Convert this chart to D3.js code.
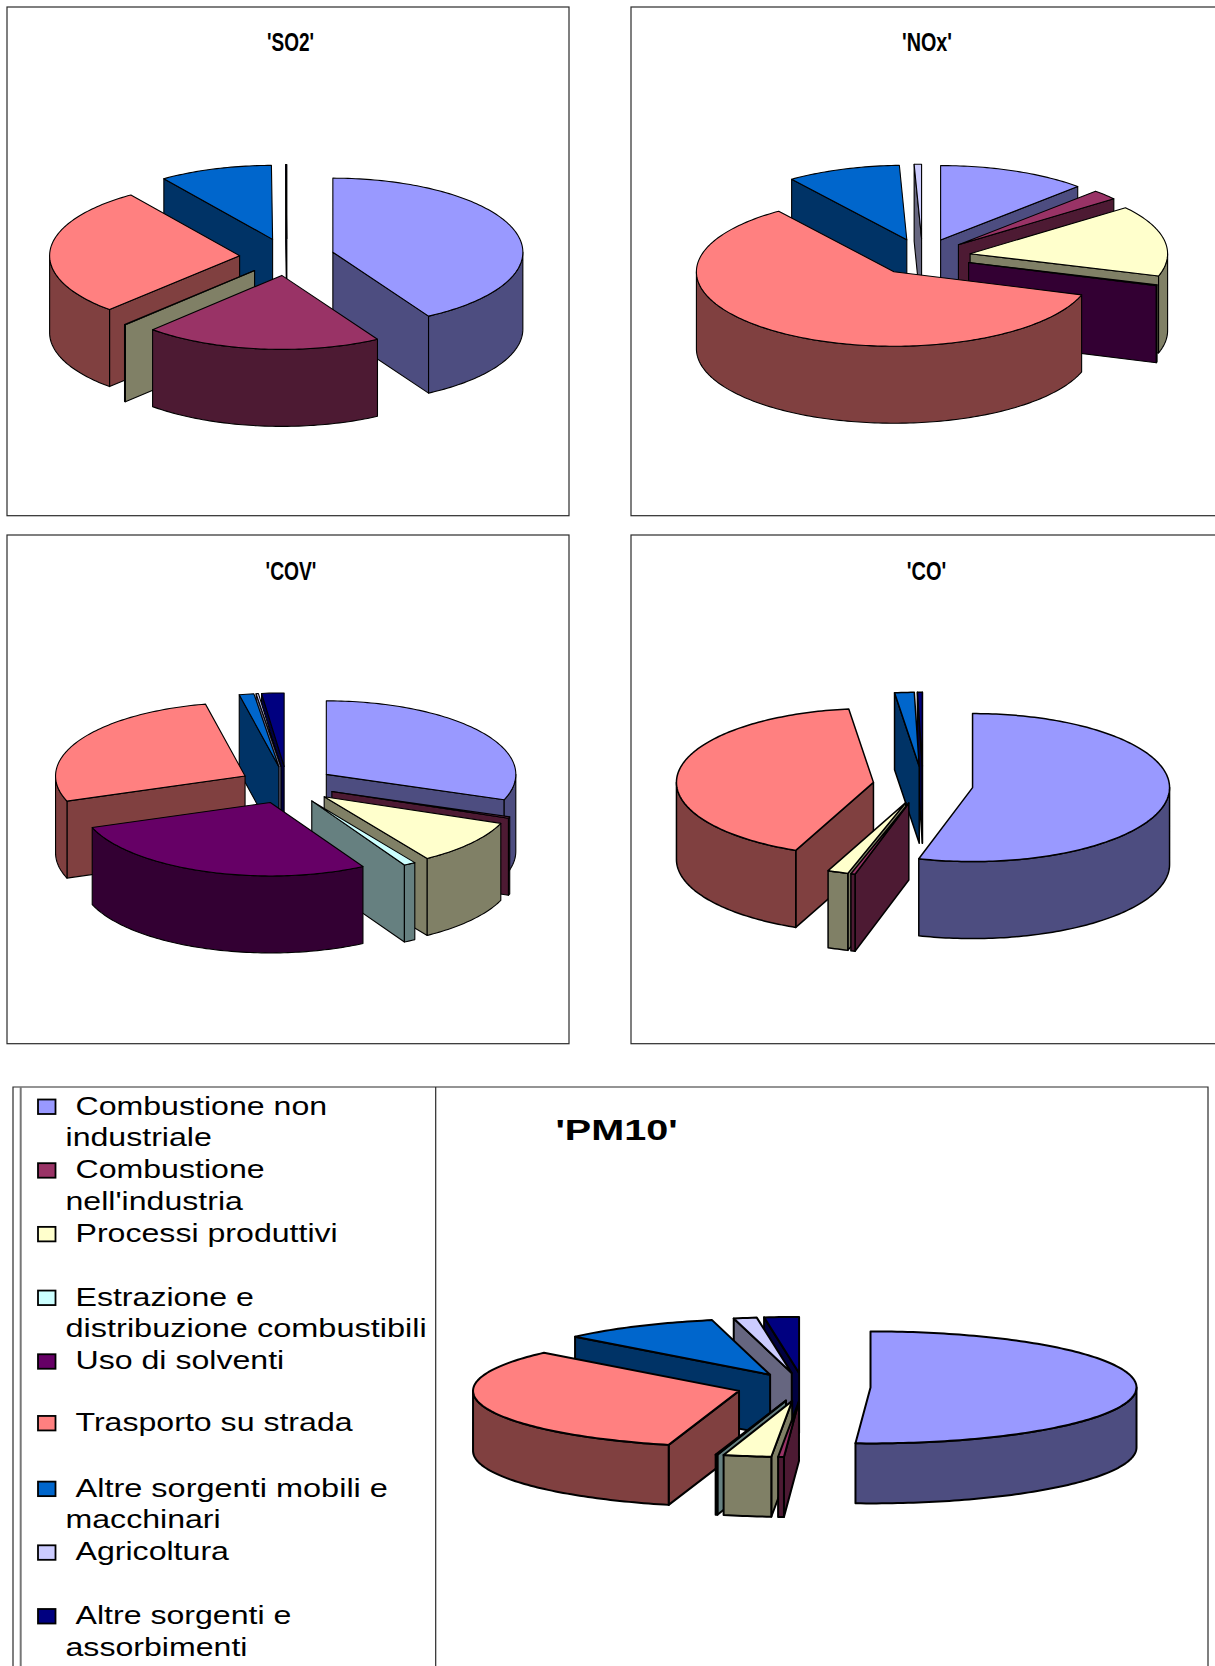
<!DOCTYPE html>
<html>
<head>
    <meta charset="UTF-8">
    <title>Emissioni per settore</title>
    <script src="https://d3js.org/d3.v7.min.js"></script>
    <style>
        body { margin: 0; background: #fff; }
        svg { display: block; }
        .frame { fill: none; stroke: #2b2b2b; stroke-width: 1.2px; }
        .face { stroke: #000; stroke-linejoin: round; }
        text { font-family: "Liberation Sans", Arial, sans-serif; fill: #000; }
        .title { font-weight: bold; text-anchor: middle; }
    </style>
</head>
<body>
    <div id="chart"></div>
    <script>
        const width = 1215;
        const height = 1666;

        // categorie, in ordine di legenda e di torta (senso orario da ore 12)
        const categories = [
            "Combustione non industriale",
            "Combustione nell'industria",
            "Processi produttivi",
            "Estrazione e distribuzione combustibili",
            "Uso di solventi",
            "Trasporto su strada",
            "Altre sorgenti mobili e macchinari",
            "Agricoltura",
            "Altre sorgenti e assorbimenti"
        ];
        const legendLines = [
            ["Combustione non", "industriale"],
            ["Combustione", "nell'industria"],
            ["Processi produttivi"],
            ["Estrazione e", "distribuzione combustibili"],
            ["Uso di solventi"],
            ["Trasporto su strada"],
            ["Altre sorgenti mobili e", "macchinari"],
            ["Agricoltura"],
            ["Altre sorgenti e", "assorbimenti"]
        ];
        const colors = ["#9999ff", "#993366", "#ffffcc", "#ccffff", "#660066", "#ff8080", "#0066cc", "#ccccff", "#000080"];

        // percentuali stimate dal grafico
        const so2 = [41.6, 20.3, 0.1, 0, 0, 28.3, 9.6, 0, 0.1];
        const nox = [12.2, 2.2, 15.4, 0, 0.2, 60, 9.3, 0.6, 0];
        const cov = [30.6, 0.3, 9.95, 1.02, 27.58, 27.2, 1.25, 0.2, 1.9];
        const co = [54.4, 0.35, 1.7, 0, 0, 41.55, 1.6, 0, 0.4];
        const pm10 = [50.9, 0.35, 2.9, 0.11, 0, 32.64, 9.6, 1.4, 2.1];

        const svg = d3.select("#chart").append("svg")
            .attr("width", width)
            .attr("height", height);

        // cornici
        [[7, 7], [631, 7], [7, 535], [631, 535]].forEach(p => {
            svg.append("rect").attr("class", "frame")
                .attr("x", p[0]).attr("y", p[1])
                .attr("width", p[0] < 100 ? 562 : 640)
                .attr("height", 508.7);
        });
        svg.append("path").attr("class", "frame")
            .attr("d", "M13,1680V1087H1208V1680M435.7,1087V1680");
        svg.append("path").attr("fill", "none").attr("stroke", "#777").attr("stroke-width", 2)
            .attr("d", "M20.7,1087V1680");

        function title(label, x, y, size, stretch) {
            svg.append("text").attr("class", "title")
                .attr("transform", `translate(${x},${y}) scale(${stretch},1)`)
                .attr("font-size", size)
                .text(label);
        }

        function drawPie(values, geo) {
            const g = svg.append("g");
            const x = d3.scaleLinear().domain([-1, 1]).range([geo.cx - geo.rx, geo.cx + geo.rx]);
            const y = d3.scaleLinear().domain([-1, 1]).range([geo.cy - geo.ry, geo.cy + geo.ry]);
            const line = d3.line().x(d => x(d[0])).y(d => y(d[1]) + (d[2] ? geo.depth : 0));

            const arcs = d3.pie().sort(null)(values)
                .map((a, i) => ({ ...a, i: i, mid: (a.startAngle + a.endAngle) / 2 }))
                .filter(a => a.value > 0)
                // prima le fette in fondo, poi quelle davanti
                .sort((a, b) => Math.cos(b.mid) - Math.cos(a.mid));

            arcs.forEach(a => {
                const ox = Math.sin(a.mid) * geo.explode;
                const oy = -Math.cos(a.mid) * geo.explode;
                const top = colors[a.i];
                const c = d3.rgb(top);
                const side = d3.rgb(c.r / 2, c.g / 2, c.b / 2).formatHex();

                const rim = (from, to, low) => {
                    const n = Math.max(2, Math.ceil((to - from) / 0.02));
                    return d3.range(n + 1).map(k => {
                        const t = from + (to - from) * k / n;
                        return [ox + Math.sin(t), oy - Math.cos(t), low];
                    });
                };
                const face = (pts, fill) => g.append("path").attr("class", "face")
                    .attr("stroke-width", geo.stroke)
                    .attr("fill", fill)
                    .attr("d", line(pts) + "Z");

                // facce radiali visibili
                if (Math.sin(a.startAngle) < 0) {
                    const e = [ox + Math.sin(a.startAngle), oy - Math.cos(a.startAngle)];
                    face([[ox, oy], e, [e[0], e[1], 1], [ox, oy, 1]], side);
                }
                if (Math.sin(a.endAngle) > 0) {
                    const e = [ox + Math.sin(a.endAngle), oy - Math.cos(a.endAngle)];
                    face([[ox, oy], e, [e[0], e[1], 1], [ox, oy, 1]], side);
                }
                // parete esterna, solo la parte rivolta verso chi guarda
                const w0 = Math.max(a.startAngle, Math.PI / 2);
                const w1 = Math.min(a.endAngle, 3 * Math.PI / 2);
                if (w1 > w0) {
                    face(rim(w0, w1, 0).concat(rim(w0, w1, 1).reverse()), side);
                }
                face([[ox, oy]].concat(rim(a.startAngle, a.endAngle, 0)), top);
            });
        }

        title("'SO2'", 290.5, 50.7, 25, 0.76);
        title("'NOx'", 927, 50.7, 25, 0.79);
        title("'COV'", 291, 580, 25, 0.77);
        title("'CO'", 926.5, 580, 25, 0.8);
        title("'PM10'", 616.5, 1140, 30, 1.32);

        drawPie(so2, { cx: 287, cy: 257, rx: 190, ry: 74, depth: 77, explode: 0.25, stroke: 1.1 });
        drawPie(nox, { cx: 922.5, cy: 257, rx: 197.5, ry: 74.5, depth: 77, explode: 0.245, stroke: 1.1 });
        drawPie(cov, { cx: 287, cy: 785, rx: 189.5, ry: 73.5, depth: 77, explode: 0.253, stroke: 1.1 });
        drawPie(co, { cx: 923, cy: 785, rx: 197, ry: 74, depth: 77, explode: 0.254, stroke: 1.5 });
        drawPie(pm10, { cx: 803.5, cy: 1387, rx: 266, ry: 56, depth: 60, explode: 0.252, stroke: 2 });

        // legenda
        const legendY = d3.scaleLinear().domain([0, 8]).range([1114.5, 1624]);
        categories.forEach((name, i) => {
            const base = legendY(i) - (i === 5 ? 2 : 0);
            svg.append("rect")
                .attr("x", 38).attr("y", base - 15)
                .attr("width", 17.5).attr("height", 14.5)
                .attr("fill", colors[i]).attr("stroke", "#000").attr("stroke-width", 1.8);
            legendLines[i].forEach((t, k) => {
                const stretch = t.length > 20 ? 1.25 : 1.235;
                svg.append("text")
                    .attr("transform", `translate(${k ? 65.5 : 75.5},${base + k * 31.7}) scale(${stretch},1)`)
                    .attr("font-size", 26)
                    .text(t);
            });
        });
    </script>
</body>
</html>
